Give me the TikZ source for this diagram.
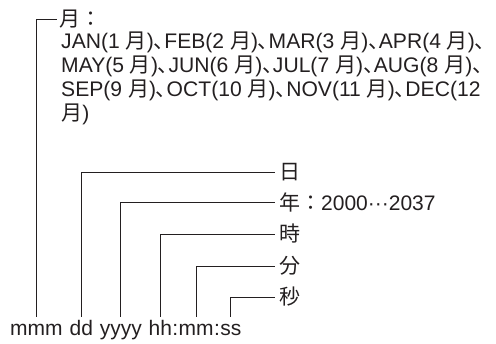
\documentclass[tikz,border=0pt]{standalone}
\usepackage{fontspec}
\setmainfont{Liberation Sans}
\newfontfamily\jp{Noto Sans CJK JP}
\newfontfamily\jpp[RawFeature=+palt]{Noto Sans CJK JP}
\usetikzlibrary{positioning}
\definecolor{ink}{HTML}{231F20}
\newcommand{\ten}{{\jpp 、}}
\newcommand{\tuki}[2]{#1(#2 {\jp 月})}

\begin{document}
\begin{tikzpicture}[
    x=1pt, y=1pt,
    node distance=0pt,
    every node/.style={text=ink, font=\fontsize{21}{24}\selectfont},
    fld/.style={inner sep=0pt, text height=19pt, text depth=5pt},
    lbl/.style={anchor=west, inner xsep=4pt, inner ysep=0pt},
    lead/.style={draw=ink, line width=0.8pt}
]
\useasboundingbox (0,0) rectangle (496,344);

% date string
\node[fld, anchor=base west] (mmm) at (10,8) {mmm};
\node[fld, base right=6.5pt of mmm] (dd) {dd};
\node[fld, base right=6.5pt of dd] (yyyy) {yyyy};
\node[fld, base right=6.5pt of yyyy] (hh) {hh};
\node[fld, base right=0pt of hh] (c1) {:};
\node[fld, base right=0pt of c1] (mm) {mm};
\node[fld, base right=0pt of mm] (c2) {:};
\node[fld, base right=0pt of c2] (ss) {ss};

% Labels
\node[lbl, inner xsep=2pt] (mon) at (57,325) {\jp 月：};
\node[lbl] (day) at (275,172) {\jp 日};
\node[lbl] (year) at (275,142) {{\jp 年：}2000···2037};
\node[lbl] (hour) at (275,110) {\jp 時};
\node[lbl] (min) at (275,78) {\jp 分};
\node[lbl] (sec) at (275,47) {\jp 秒};

\node[anchor=north west, inner sep=0pt, align=left,
      font=\fontsize{21.1}{24}\selectfont] (list) at (61,312) {%
\tuki{JAN}{1}\ten\tuki{FEB}{2}\ten\tuki{MAR}{3}\ten\tuki{APR}{4}\ten\\
\tuki{MAY}{5}\ten\tuki{JUN}{6}\ten\tuki{JUL}{7}\ten\tuki{AUG}{8}\ten\\
\tuki{SEP}{9}\ten\tuki{OCT}{10}\ten\tuki{NOV}{11}\ten DEC(12\\
{\jp 月})};

\draw[lead] (mmm.north) |- (mon.west);
\draw[lead] (dd.north) |- (day.west);
\draw[lead] (yyyy.north) |- (year.west);
\draw[lead] (hh.north) |- (hour.west);
\draw[lead] (mm.north) |- (min.west);
\draw[lead] (ss.north) |- (sec.west);

\end{tikzpicture}
\end{document}
